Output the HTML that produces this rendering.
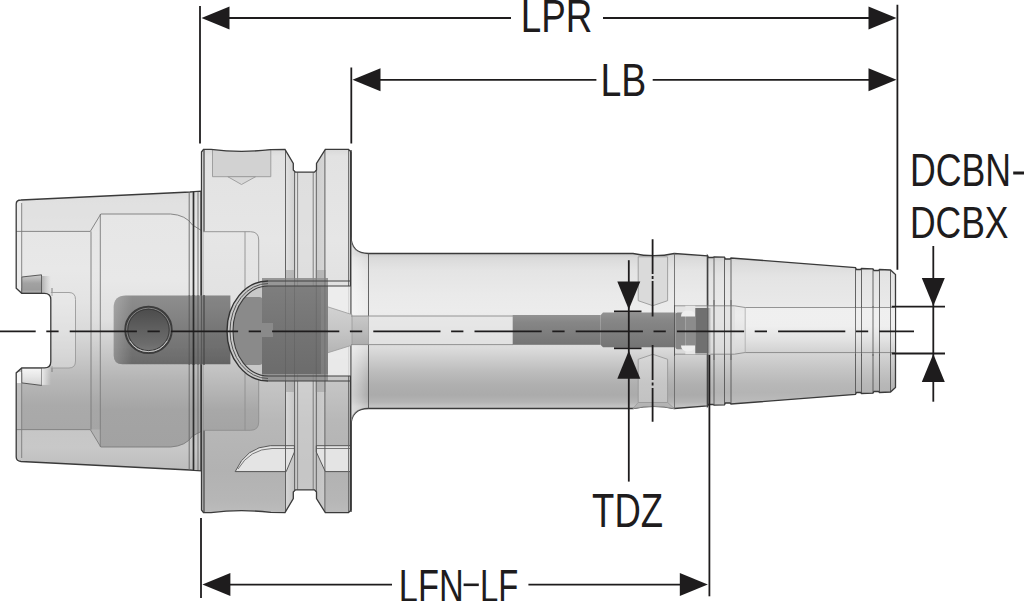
<!DOCTYPE html>
<html><head><meta charset="utf-8"><title>drawing</title>
<style>
html,body{margin:0;padding:0;background:#fff;}
body{width:1024px;height:601px;overflow:hidden;font-family:"Liberation Sans",sans-serif;}
svg{display:block;}
</style></head>
<body>
<svg width="1024" height="601" viewBox="0 0 1024 601">
<rect width="1024" height="601" fill="#fff"/>
<defs>
<linearGradient id="gShank" gradientUnits="userSpaceOnUse" x1="0" y1="191" x2="0" y2="471"><stop offset="0.0" stop-color="#d2d2d2"/><stop offset="0.0321" stop-color="#dedede"/><stop offset="0.1429" stop-color="#e4e4e4"/><stop offset="0.1464" stop-color="#e6e6e6"/><stop offset="0.2821" stop-color="#e8e8e8"/><stop offset="0.3893" stop-color="#e4e4e4"/><stop offset="0.4964" stop-color="#dadada"/><stop offset="0.5857" stop-color="#cacaca"/><stop offset="0.675" stop-color="#b8b8b8"/><stop offset="0.7643" stop-color="#aaaaaa"/><stop offset="0.85" stop-color="#a8a8a8"/><stop offset="0.8536" stop-color="#c2c2c2"/><stop offset="0.925" stop-color="#c8c8c8"/><stop offset="1.0" stop-color="#bababa"/></linearGradient>
<linearGradient id="gFlange" gradientUnits="userSpaceOnUse" x1="0" y1="149" x2="0" y2="513"><stop offset="0.0" stop-color="#d8d8d8"/><stop offset="0.0192" stop-color="#e2e2e2"/><stop offset="0.25" stop-color="#e6e6e6"/><stop offset="0.4148" stop-color="#e0e0e0"/><stop offset="0.5247" stop-color="#d6d6d6"/><stop offset="0.6346" stop-color="#c6c6c6"/><stop offset="0.7445" stop-color="#b8b8b8"/><stop offset="0.8819" stop-color="#b2b2b2"/><stop offset="0.9643" stop-color="#b6b6b6"/><stop offset="1.0" stop-color="#bcbcbc"/></linearGradient>
<linearGradient id="gShaft" gradientUnits="userSpaceOnUse" x1="0" y1="253.5" x2="0" y2="409"><stop offset="0.0" stop-color="#cccccc"/><stop offset="0.0289" stop-color="#dadada"/><stop offset="0.1061" stop-color="#e4e4e4"/><stop offset="0.2669" stop-color="#eaeaea"/><stop offset="0.3762" stop-color="#ececec"/><stop offset="0.4984" stop-color="#e6e6e6"/><stop offset="0.6077" stop-color="#dcdcdc"/><stop offset="0.6849" stop-color="#cccccc"/><stop offset="0.7621" stop-color="#bcbcbc"/><stop offset="0.8457" stop-color="#afafaf"/><stop offset="0.91" stop-color="#ababab"/><stop offset="0.955" stop-color="#b4b4b4"/><stop offset="0.9807" stop-color="#c2c2c2"/><stop offset="1.0" stop-color="#c4c4c4"/></linearGradient>
<linearGradient id="gNose" x1="0" y1="0" x2="0" y2="1"><stop offset="0" stop-color="#cccccc"/><stop offset="0.04" stop-color="#dadada"/><stop offset="0.14" stop-color="#e4e4e4"/><stop offset="0.3" stop-color="#e8e8e8"/><stop offset="0.4" stop-color="#ececec"/><stop offset="0.5" stop-color="#e6e6e6"/><stop offset="0.6" stop-color="#dcdcdc"/><stop offset="0.68" stop-color="#d0d0d0"/><stop offset="0.76" stop-color="#c4c4c4"/><stop offset="0.85" stop-color="#b8b8b8"/><stop offset="0.91" stop-color="#b4b4b4"/><stop offset="0.96" stop-color="#bababa"/><stop offset="1" stop-color="#c4c4c4"/></linearGradient>
<linearGradient id="gBoreN" x1="0" y1="0" x2="0" y2="1"><stop offset="0" stop-color="#f0f0f0"/><stop offset="0.4" stop-color="#f0f0f0"/><stop offset="0.7" stop-color="#e2e2e2"/><stop offset="1" stop-color="#cecece"/></linearGradient>
<linearGradient id="gBandB" gradientUnits="userSpaceOnUse" x1="0" y1="429" x2="0" y2="471"><stop offset="0.0" stop-color="#c6c6c6"/><stop offset="0.4286" stop-color="#c8c8c8"/><stop offset="1.0" stop-color="#bcbcbc"/></linearGradient>
<linearGradient id="gInner" gradientUnits="userSpaceOnUse" x1="0" y1="214" x2="0" y2="447"><stop offset="0.0" stop-color="#e6e6e6"/><stop offset="0.2833" stop-color="#e8e8e8"/><stop offset="0.4549" stop-color="#e0e0e0"/><stop offset="0.5837" stop-color="#cacaca"/><stop offset="0.7124" stop-color="#b4b4b4"/><stop offset="0.8412" stop-color="#a4a4a4"/><stop offset="1.0" stop-color="#a2a2a2"/></linearGradient>
<linearGradient id="gShadeT" x1="0" y1="0" x2="1" y2="0"><stop offset="0" stop-color="#777" stop-opacity="0.5"/><stop offset="1" stop-color="#999" stop-opacity="0"/></linearGradient>
<linearGradient id="gHiB" x1="0" y1="0" x2="1" y2="0"><stop offset="0" stop-color="#fff" stop-opacity="0.7"/><stop offset="1" stop-color="#fff" stop-opacity="0"/></linearGradient>
<linearGradient id="gHidF" gradientUnits="userSpaceOnUse" x1="0" y1="231" x2="0" y2="431"><stop offset="0.0" stop-color="#e6e6e6"/><stop offset="0.345" stop-color="#e2e2e2"/><stop offset="0.545" stop-color="#d6d6d6"/><stop offset="0.745" stop-color="#bcbcbc"/><stop offset="0.895" stop-color="#a8a8a8"/><stop offset="1.0" stop-color="#a4a4a4"/></linearGradient>
<linearGradient id="gXB" x1="0" y1="0" x2="0" y2="1"><stop offset="0" stop-color="#d8d8d8"/><stop offset="0.2" stop-color="#d2d2d2"/><stop offset="0.6" stop-color="#c6c6c6"/><stop offset="1" stop-color="#c2c2c2"/></linearGradient>
<linearGradient id="gCone" x1="0" y1="0" x2="0" y2="1"><stop offset="0" stop-color="#d2d2d2"/><stop offset="0.5" stop-color="#c6c6c6"/><stop offset="1" stop-color="#b4b4b4"/></linearGradient>
<linearGradient id="gCone2" x1="0" y1="0" x2="0" y2="1"><stop offset="0" stop-color="#c8c8c8"/><stop offset="0.5" stop-color="#bcbcbc"/><stop offset="1" stop-color="#acacac"/></linearGradient>
<linearGradient id="gDbL" x1="0" y1="0" x2="1" y2="0"><stop offset="0" stop-color="#fff" stop-opacity="0.22"/><stop offset="1" stop-color="#fff" stop-opacity="0"/></linearGradient>
<filter id="fSoft" x="-5%" y="-5%" width="110%" height="110%"><feGaussianBlur stdDeviation="0.6"/></filter>
<linearGradient id="gFil" x1="0" y1="0" x2="1" y2="0"><stop offset="0" stop-color="#fff" stop-opacity="0.45"/><stop offset="0.6" stop-color="#fff" stop-opacity="0.2"/><stop offset="1" stop-color="#fff" stop-opacity="0"/></linearGradient>
<linearGradient id="gDark" x1="0" y1="0" x2="0" y2="1"><stop offset="0" stop-color="#8e8e8e"/><stop offset="0.3" stop-color="#848484"/><stop offset="0.7" stop-color="#767676"/><stop offset="1" stop-color="#6a6a6a"/></linearGradient>
<linearGradient id="gDark2" x1="0" y1="0" x2="0" y2="1"><stop offset="0" stop-color="#7e7e7e"/><stop offset="0.5" stop-color="#747474"/><stop offset="1" stop-color="#6c6c6c"/></linearGradient>
<linearGradient id="gRod" x1="0" y1="0" x2="0" y2="1"><stop offset="0" stop-color="#929292"/><stop offset="0.25" stop-color="#868686"/><stop offset="0.6" stop-color="#7e7e7e"/><stop offset="1" stop-color="#747474"/></linearGradient>
<linearGradient id="gHole" x1="0" y1="0" x2="0" y2="1"><stop offset="0" stop-color="#4a4a4a"/><stop offset="0.45" stop-color="#5e5e5e"/><stop offset="0.8" stop-color="#6c6c6c"/><stop offset="1" stop-color="#7a7a7a"/></linearGradient>
<linearGradient id="gToothT" x1="0" y1="0" x2="0" y2="1"><stop offset="0" stop-color="#cdcdcd"/><stop offset="0.45" stop-color="#a2a2a2"/><stop offset="0.8" stop-color="#9c9c9c"/><stop offset="1" stop-color="#b4b4b4"/></linearGradient>
<linearGradient id="gToothB" x1="0" y1="0" x2="0" y2="1"><stop offset="0" stop-color="#f6f6f6"/><stop offset="0.5" stop-color="#e6e6e6"/><stop offset="1" stop-color="#d2d2d2"/></linearGradient>
<linearGradient id="gWall" x1="0" y1="0" x2="0" y2="1"><stop offset="0" stop-color="#cacaca"/><stop offset="0.5" stop-color="#c2c2c2"/><stop offset="1" stop-color="#bdbdbd"/></linearGradient>
<linearGradient id="gWallL" x1="0" y1="0" x2="1" y2="0"><stop offset="0" stop-color="#e2e2e2"/><stop offset="1" stop-color="#c8c8c8"/></linearGradient>
<linearGradient id="gWallR" x1="0" y1="0" x2="1" y2="0"><stop offset="0" stop-color="#c6c6c6"/><stop offset="1" stop-color="#d2d2d2"/></linearGradient>
<linearGradient id="gFade" x1="0" y1="0" x2="1" y2="0"><stop offset="0" stop-color="#7a7a7a" stop-opacity="0.9"/><stop offset="1" stop-color="#9a9a9a" stop-opacity="0"/></linearGradient>
<radialGradient id="gShadow" cx="0" cy="0.5" r="1"><stop offset="0" stop-color="#777" stop-opacity="0.55"/><stop offset="1" stop-color="#777" stop-opacity="0"/></radialGradient>
</defs>
<clipPath id="cShank"><path d="M21,200 L190,192 L194,191.6 L201,191.2 L201,470.8 L194,470.4 L190,470 L21,461.5 Q16.2,461 16.2,457 L16.2,372.9 L21.7,367.9 L44.5,367.9 Q50.8,367.9 50.8,361.5 L50.8,299.5 Q50.8,293.3 44.5,293.3 L21.7,293.3 L16.2,288.3 L16.2,204 Q16.2,200 21,200 Z"/></clipPath>
<path d="M21,200 L190,192 L194,191.6 L201,191.2 L201,470.8 L194,470.4 L190,470 L21,461.5 Q16.2,461 16.2,457 L16.2,372.9 L21.7,367.9 L44.5,367.9 Q50.8,367.9 50.8,361.5 L50.8,299.5 Q50.8,293.3 44.5,293.3 L21.7,293.3 L16.2,288.3 L16.2,204 Q16.2,200 21,200 Z" fill="url(#gShank)"/>
<g clip-path="url(#cShank)">
<path d="M10,231.4 L90.3,231.4 L100.8,214 L170.6,214 Q186,215 192.5,225 L203.3,231.7 L210,150 L10,150 Z" fill="#e2e2e2" opacity="0.55"/>
<path d="M10,429.6 L90.3,429.6 L100.8,447 L170.6,447 Q186,446 192.5,436 L203.3,430.3 L210,480 L10,480 Z" fill="url(#gBandB)"/>
<path d="M100.8,214 L170.6,214 Q186,215 192.5,225 L203.3,231.7 V430.3 L192.5,436 Q186,446 170.6,447 L100.8,447 Z" fill="url(#gInner)"/>
<path d="M90.3,231.4 L100.8,214 V447 L90.3,429.6 Z" fill="url(#gInner)" opacity="0.5"/>
<rect x="16" y="200" width="5.7" height="90" fill="#ececec"/>
<rect x="16" y="372" width="5.7" height="11" fill="#f6f6f6"/>
<rect x="16" y="383" width="5.7" height="80" fill="#c6c6c6" opacity="0.6"/>
<polygon points="21.7,277.0 41.5,274.8 41.5,293.3 21.7,293.3" fill="url(#gToothT)" stroke="#3a3a3a" stroke-width="0.8"/>
<polygon points="21.7,367.9 41.5,367.9 41.5,385.4 21.7,382.9" fill="url(#gToothB)" stroke="#3a3a3a" stroke-width="0.8"/>
<rect x="41.5" y="276" width="9.5" height="17.3" fill="url(#gShadeT)"/>
<rect x="41.5" y="367.9" width="9.5" height="17" fill="url(#gHiB)"/>
<path d="M16,231.4 L90.3,231.4 L100.8,214 L170.6,214 Q186,215 192.5,225 L203.3,231.7" fill="none" stroke="#7c7c7c" stroke-width="0.9"/>
<path d="M16,429.6 L90.3,429.6 L100.8,447 L170.6,447 Q186,446 192.5,436 L203.3,430.3" fill="none" stroke="#7c7c7c" stroke-width="0.9"/>
<path d="M91,231.4 V429.6 M100.3,214 V447 M21.7,203 V288 M21.7,373 V458" fill="none" stroke="#7c7c7c" stroke-width="0.9"/>
<path d="M52,288 V296 M52,366 V372" stroke="#777" stroke-width="0.9"/>
<path d="M50.8,292.5 H69 Q75.5,292.5 75.5,299.5 V361 Q75.5,368 69,368 H50.8" fill="#ededed" fill-opacity="0.35" stroke="#9a9a9a" stroke-width="0.9"/>
</g>
<path d="M21,200 L190,192 L194,191.6 L201,191.2 L201,470.8 L194,470.4 L190,470 L21,461.5 Q16.2,461 16.2,457 L16.2,372.9 L21.7,367.9 L44.5,367.9 Q50.8,367.9 50.8,361.5 L50.8,299.5 Q50.8,293.3 44.5,293.3 L21.7,293.3 L16.2,288.3 L16.2,204 Q16.2,200 21,200 Z" fill="none" stroke="#3a3a3a" stroke-width="1.3"/>
<clipPath id="cFlange"><path d=" M201.5,152.0 L203.5,149.3 L211.0,149.4 C230.0,151.8 252.0,151.8 270.8,149.6 L285.0,149.4 L293.3,163.5 L293.3,170.0 L295.5,172.2 L314.5,172.2 L316.5,170.0 L316.5,163.5 L325.3,149.4 L348.5,149.4 L351.0,152.0 L351.0,510.0 L348.5,512.6 L325.3,512.6 L316.5,498.5 L316.5,492.0 L314.5,489.8 L295.5,489.8 L293.3,492.0 L293.3,498.5 L285.0,512.6 L270.8,512.4 C252.0,510.2 230.0,510.2 211.0,512.6 L203.5,512.7 L201.5,510.0 Z"/></clipPath>
<path d=" M201.5,152.0 L203.5,149.3 L211.0,149.4 C230.0,151.8 252.0,151.8 270.8,149.6 L285.0,149.4 L293.3,163.5 L293.3,170.0 L295.5,172.2 L314.5,172.2 L316.5,170.0 L316.5,163.5 L325.3,149.4 L348.5,149.4 L351.0,152.0 L351.0,510.0 L348.5,512.6 L325.3,512.6 L316.5,498.5 L316.5,492.0 L314.5,489.8 L295.5,489.8 L293.3,492.0 L293.3,498.5 L285.0,512.6 L270.8,512.4 C252.0,510.2 230.0,510.2 211.0,512.6 L203.5,512.7 L201.5,510.0 Z" fill="url(#gFlange)"/>
<g clip-path="url(#cFlange)">
<rect x="285.4" y="140" width="9.3" height="390" fill="url(#gWallL)" opacity="0.75"/>
<rect x="316" y="140" width="9.3" height="390" fill="url(#gWallR)" opacity="0.75"/>
<rect x="294.7" y="170" width="21.3" height="330" fill="#dadada" opacity="0.5"/>
<path d="M212.5,149 L212.5,176.7 H270.8 V149 Z" fill="#d2d2d2" stroke="#999" stroke-width="0.9"/>
<polygon points="227.8,176.7 241.5,184.5 255.6,176.7" fill="#d8d8d8" stroke="#9a9a9a" stroke-width="0.9"/>
<path d="M235.2,471.6 Q246,447 270.4,445.7 H294.4 V452 L286.2,471.6 Z" fill="#e4e4e4" stroke="#4a4a4a" stroke-width="0.9"/>
<path d="M238,469 Q250,449 272,448.5 H294.4" fill="none" stroke="#5a5a5a" stroke-width="0.8"/>
<path d="M316.3,445.7 H351 V471.6 H325.3 L316.3,452 Z" fill="#e4e4e4" stroke="#4a4a4a" stroke-width="0.9"/>
<path d="M316.3,448.5 H351" stroke="#5a5a5a" stroke-width="0.8"/>
<line x1="204" y1="140" x2="204" y2="522" stroke="#555" stroke-width="1.4"/>
<line x1="285.5" y1="140" x2="285.5" y2="522" stroke="#555" stroke-width="0.9"/>
<line x1="294.6" y1="140" x2="294.6" y2="522" stroke="#555" stroke-width="0.9"/>
<line x1="297.6" y1="140" x2="297.6" y2="522" stroke="#666" stroke-width="0.8"/>
<line x1="313.2" y1="140" x2="313.2" y2="522" stroke="#666" stroke-width="0.8"/>
<line x1="316.3" y1="140" x2="316.3" y2="522" stroke="#555" stroke-width="0.9"/>
<line x1="324.9" y1="140" x2="324.9" y2="522" stroke="#555" stroke-width="0.9"/>
<line x1="348.5" y1="140" x2="348.5" y2="522" stroke="#666" stroke-width="0.9"/>
<path d="M203.3,231.7 H250.5 Q258.7,231.7 258.7,240 V422 Q258.7,430.3 250.5,430.3 H203.3 Z" fill="url(#gHidF)"/>
<path d="M203.3,231.7 H250.5 Q258.7,231.7 258.7,240 V422 Q258.7,430.3 250.5,430.3 H203.3 M245,231.7 V430.3" fill="none" stroke="#8e8e8e" stroke-width="0.9"/>
</g>
<path d=" M201.5,152.0 L203.5,149.3 L211.0,149.4 C230.0,151.8 252.0,151.8 270.8,149.6 L285.0,149.4 L293.3,163.5 L293.3,170.0 L295.5,172.2 L314.5,172.2 L316.5,170.0 L316.5,163.5 L325.3,149.4 L348.5,149.4 L351.0,152.0 L351.0,510.0 L348.5,512.6 L325.3,512.6 L316.5,498.5 L316.5,492.0 L314.5,489.8 L295.5,489.8 L293.3,492.0 L293.3,498.5 L285.0,512.6 L270.8,512.4 C252.0,510.2 230.0,510.2 211.0,512.6 L203.5,512.7 L201.5,510.0 Z" fill="none" stroke="#3a3a3a" stroke-width="1.3"/>
<line x1="189.2" y1="192" x2="189.2" y2="470" stroke="#666" stroke-width="0.9"/>
<line x1="193.5" y1="192" x2="193.5" y2="470" stroke="#2e2e2e" stroke-width="1.7"/>
<line x1="198" y1="192" x2="198" y2="470" stroke="#666" stroke-width="0.9"/>
<clipPath id="cShaft"><path d="M351,150 V236 Q351,253.5 368.5,253.5 L633,253.5 Q654,258 674.3,253.5 L707.5,255.8 L707.5,405.8 L674.3,408.5 Q654,404 633,408.5 L368.5,408.5 Q351,408.5 351,426 V512 Z"/></clipPath>
<path d="M351,150 V236 Q351,253.5 368.5,253.5 L633,253.5 Q654,258 674.3,253.5 L707.5,255.8 L707.5,405.8 L674.3,408.5 Q654,404 633,408.5 L368.5,408.5 Q351,408.5 351,426 V512 Z" fill="url(#gShaft)" stroke="#3a3a3a" stroke-width="1.3"/>
<rect x="351" y="230" width="17.5" height="200" fill="url(#gFil)" clip-path="url(#cShaft)"/>
<line x1="368.5" y1="253.5" x2="368.5" y2="408.5" stroke="#555" stroke-width="0.9"/>
<line x1="350.5" y1="152" x2="350.5" y2="510" stroke="#3a3a3a" stroke-width="1.3"/>
<clipPath id="cNose"><polygon points="707.5,255.8 708.5,257.5 713.0,257.5 714.0,256.8 724.5,257.2 725.5,259.0 730.0,259.0 731.0,258.0 855.5,267.5 856.5,269.5 860.5,269.5 861.5,268.5 873.0,268.8 874.0,270.5 878.5,270.5 879.5,269.5 890.5,270.0 895.5,274.5 895.5,387.5 890.5,392.0 879.5,392.5 878.5,391.5 874.0,391.5 873.0,393.2 861.5,393.5 860.5,392.5 856.5,392.5 855.5,394.5 731.0,404.0 730.0,403.0 725.5,403.0 724.5,404.8 714.0,405.2 713.0,404.5 708.5,404.5 707.5,406.2"/></clipPath>
<polygon points="707.5,255.8 708.5,257.5 713.0,257.5 714.0,256.8 724.5,257.2 725.5,259.0 730.0,259.0 731.0,258.0 855.5,267.5 856.5,269.5 860.5,269.5 861.5,268.5 873.0,268.8 874.0,270.5 878.5,270.5 879.5,269.5 890.5,270.0 895.5,274.5 895.5,387.5 890.5,392.0 879.5,392.5 878.5,391.5 874.0,391.5 873.0,393.2 861.5,393.5 860.5,392.5 856.5,392.5 855.5,394.5 731.0,404.0 730.0,403.0 725.5,403.0 724.5,404.8 714.0,405.2 713.0,404.5 708.5,404.5 707.5,406.2" fill="url(#gNose)"/>
<g clip-path="url(#cNose)">
<line x1="714" y1="250" x2="714" y2="412" stroke="#555" stroke-width="0.9"/>
<line x1="724.5" y1="250" x2="724.5" y2="412" stroke="#555" stroke-width="0.9"/>
<line x1="731" y1="250" x2="731" y2="412" stroke="#555" stroke-width="0.9"/>
<line x1="855.5" y1="250" x2="855.5" y2="412" stroke="#555" stroke-width="0.9"/>
<line x1="861.5" y1="250" x2="861.5" y2="412" stroke="#555" stroke-width="0.9"/>
<line x1="873" y1="250" x2="873" y2="412" stroke="#555" stroke-width="0.9"/>
<line x1="879.5" y1="250" x2="879.5" y2="412" stroke="#555" stroke-width="0.9"/>
<line x1="890.5" y1="250" x2="890.5" y2="412" stroke="#555" stroke-width="0.9"/>
</g>
<polygon points="707.5,255.8 708.5,257.5 713.0,257.5 714.0,256.8 724.5,257.2 725.5,259.0 730.0,259.0 731.0,258.0 855.5,267.5 856.5,269.5 860.5,269.5 861.5,268.5 873.0,268.8 874.0,270.5 878.5,270.5 879.5,269.5 890.5,270.0 895.5,274.5 895.5,387.5 890.5,392.0 879.5,392.5 878.5,391.5 874.0,391.5 873.0,393.2 861.5,393.5 860.5,392.5 856.5,392.5 855.5,394.5 731.0,404.0 730.0,403.0 725.5,403.0 724.5,404.8 714.0,405.2 713.0,404.5 708.5,404.5 707.5,406.2" fill="none" stroke="#3a3a3a" stroke-width="1.3"/>
<line x1="707.7" y1="255.8" x2="707.7" y2="405.8" stroke="#444" stroke-width="1.1"/>
<rect x="327" y="286" width="23.5" height="90" fill="#f0f0f0" opacity="0.8"/>
<polygon points="327,306.6 352,314.6 352,345.2 327,353" fill="url(#gCone)"/>
<rect x="352" y="316" width="16.5" height="28.6" fill="url(#gCone2)"/>
<path d="M327,306.6 L352,314.6 V345.2 L327,353" fill="none" stroke="#9a9a9a" stroke-width="0.8"/>
<rect x="368.5" y="316" width="144.5" height="28.6" fill="#e4e4e4" opacity="0.55"/>
<path d="M351,316 H513 M351,344.6 H513" stroke="#8a8a8a" stroke-width="0.9"/>
<rect x="745" y="307.5" width="150" height="46.5" fill="url(#gBoreN)" opacity="0.85"/>
<rect x="675" y="305.8" width="60" height="48.4" fill="#dcdcdc" opacity="0.55"/>
<path d="M675,305.8 H734.4 L745.2,307.5 H895.5 M675,354.2 H734.4 L745.2,352.5 H895.5" fill="none" stroke="#8a8a8a" stroke-width="0.9"/>
<line x1="745.2" y1="307.5" x2="745.2" y2="352.5" stroke="#aaa" stroke-width="0.8"/>
<line x1="855.5" y1="306" x2="855.5" y2="356" stroke="#555" stroke-width="0.9" opacity="0.85"/>
<line x1="861.5" y1="306" x2="861.5" y2="356" stroke="#555" stroke-width="0.9" opacity="0.85"/>
<line x1="873" y1="306" x2="873" y2="356" stroke="#555" stroke-width="0.9" opacity="0.85"/>
<line x1="879.5" y1="306" x2="879.5" y2="356" stroke="#555" stroke-width="0.9" opacity="0.85"/>
<line x1="890.5" y1="306" x2="890.5" y2="356" stroke="#555" stroke-width="0.9" opacity="0.85"/>
<path d="M638.2,256.8 H667.6 V300.7 L652.8,305.7 L638.2,300.7 Z" fill="#dadada" stroke="#9a9a9a" stroke-width="0.9"/>
<path d="M638.2,402.5 H667.6 V359.3 L652.8,354.3 L638.2,359.3 Z" fill="url(#gXB)" stroke="#999" stroke-width="0.9"/>
<path d="M638.2,402.5 H667.6 L674.3,408.5 Q654,404 633,408.5 Z" fill="#b4b4b4" stroke="#999" stroke-width="0.8"/>
<line x1="674.5" y1="253.5" x2="674.5" y2="408.5" stroke="#6a6a6a" stroke-width="0.9"/>
<path d="M126,295.5 H230.4 V364.3 H122.5 Q113.7,364.3 113.7,355.5 V307.5 Q113.7,295.5 126,295.5 Z" fill="url(#gDark)" filter="url(#fSoft)"/>
<path d="M126,295.5 H132 V364.3 H122.5 Q113.7,364.3 113.7,355.5 V307.5 Q113.7,295.5 126,295.5 Z" fill="url(#gDbL)"/>
<rect x="200" y="295.5" width="30.4" height="68.8" fill="#000" opacity="0.05"/>
<clipPath id="cD"><path d="M268,286 A35,45 0 0 0 268,376 Z"/></clipPath>
<path d="M268,281 A41,50 0 0 0 268,381 Z" fill="#c8c8c8"/>
<rect x="226" y="297" width="37" height="68" rx="4" fill="#8a8a8a" clip-path="url(#cD)"/>
<circle cx="148.5" cy="329.9" r="23.2" fill="url(#gHole)" stroke="#3c3c3c" stroke-width="2"/>
<circle cx="148.5" cy="329.9" r="21.7" fill="none" stroke="#8a8a8a" stroke-width="0.9"/>
<circle cx="148.5" cy="329.9" r="20.7" fill="none" stroke="#3a3a3a" stroke-width="1"/>
<path d="M129.7,340.75 A21.7,21.7 0 0 0 167.3,340.75" fill="none" stroke="#c4c4c4" stroke-width="1"/>
<rect x="262" y="278" width="66" height="103" fill="#8a8a8a" opacity="0.85"/>
<rect x="262" y="286" width="66" height="88" fill="url(#gDark2)"/>
<rect x="321" y="286" width="7" height="88" fill="#8a8a8a" opacity="0.6"/>
<rect x="258" y="323" width="15" height="14" fill="#8a8a8a"/>
<rect x="285.4" y="270" width="9.3" height="15" fill="#9a9a9a" opacity="0.5"/>
<rect x="316" y="270" width="9.3" height="15" fill="#9a9a9a" opacity="0.5"/>
<rect x="285.4" y="377" width="9.3" height="15" fill="#9a9a9a" opacity="0.5"/>
<rect x="316" y="377" width="9.3" height="15" fill="#9a9a9a" opacity="0.5"/>
<path d="M268,281 A41,50 0 0 0 268,381" fill="none" stroke="#333" stroke-width="1.4"/>
<path d="M268,283.5 A38,47.5 0 0 0 268,378.5" fill="none" stroke="#555" stroke-width="1"/>
<path d="M268,286 A35,45 0 0 0 268,376" fill="none" stroke="#3a3a3a" stroke-width="1.1"/>
<path d="M268,281 H351 M268,286 H351 M268,376 H351 M268,381 H351" stroke="#404040" stroke-width="1"/>
<line x1="189.2" y1="295" x2="189.2" y2="365" stroke="#555" stroke-width="0.9"/>
<line x1="193.5" y1="295" x2="193.5" y2="365" stroke="#2a2a2a" stroke-width="1.7"/>
<line x1="198" y1="295" x2="198" y2="365" stroke="#555" stroke-width="0.9"/>
<line x1="201.5" y1="295" x2="201.5" y2="365" stroke="#555" stroke-width="0.9"/>
<line x1="204" y1="295" x2="204" y2="365" stroke="#4a4a4a" stroke-width="1.3"/>
<line x1="285.5" y1="270" x2="285.5" y2="392" stroke="#4a4a4a" stroke-width="0.8" opacity="0.35"/>
<line x1="294.6" y1="270" x2="294.6" y2="392" stroke="#4a4a4a" stroke-width="0.8" opacity="0.35"/>
<line x1="316.3" y1="270" x2="316.3" y2="392" stroke="#4a4a4a" stroke-width="0.8" opacity="0.35"/>
<line x1="324.9" y1="270" x2="324.9" y2="392" stroke="#4a4a4a" stroke-width="0.8" opacity="0.35"/>
<rect x="512.7" y="315" width="88" height="29.8" fill="url(#gRod)"/>
<path d="M603,312.4 H675.5 V347.3 H603 L600.8,345 V315 Z" fill="url(#gRod)"/>
<rect x="675.5" y="312.6" width="10" height="36.6" rx="2" fill="#878787"/>
<rect x="685.3" y="305.8" width="10" height="48.4" fill="#e6e6e6"/>
<rect x="685.3" y="316" width="10" height="29.9" fill="#8c8c8c"/>
<path d="M681,316.4 Q681,310.6 688,310.6 Q695.3,310.6 695.3,316.4 Z M681,345.6 Q681,351.4 688,351.4 Q695.3,351.4 695.3,345.6 Z" fill="#eeeeee"/>
<rect x="695.3" y="308" width="12.4" height="45.2" fill="#707070"/>
<rect x="707.5" y="308" width="4" height="45.2" fill="url(#gFade)"/>
<line x1="674.5" y1="305" x2="674.5" y2="356" stroke="#555" stroke-width="0.9"/>
<line x1="707.7" y1="300" x2="707.7" y2="360" stroke="#555" stroke-width="0.9" opacity="0.8"/>
<line x1="714" y1="300" x2="714" y2="360" stroke="#555" stroke-width="0.9" opacity="0.8"/>
<line x1="724.5" y1="300" x2="724.5" y2="360" stroke="#555" stroke-width="0.9" opacity="0.8"/>
<line x1="731" y1="300" x2="731" y2="360" stroke="#555" stroke-width="0.9" opacity="0.8"/>
<line x1="0" y1="331.4" x2="914" y2="331.4" stroke="#1e1c1d" stroke-width="1.6" stroke-dasharray="67.2 10.6 12.3 11.1" stroke-dashoffset="31.5"/>
<line x1="200" y1="6" x2="200" y2="143.5" stroke="#1e1c1d" stroke-width="1.8"/>
<line x1="351.3" y1="67.5" x2="351.3" y2="143.5" stroke="#1e1c1d" stroke-width="1.8"/>
<line x1="897.4" y1="4.7" x2="897.4" y2="269.8" stroke="#1e1c1d" stroke-width="1.8"/>
<line x1="201" y1="518" x2="201" y2="598" stroke="#1e1c1d" stroke-width="1.8"/>
<line x1="709.4" y1="355" x2="709.4" y2="596.3" stroke="#1e1c1d" stroke-width="1.8"/>
<line x1="215" y1="18" x2="511" y2="18" stroke="#1e1c1d" stroke-width="1.8"/>
<line x1="603" y1="18" x2="880" y2="18" stroke="#1e1c1d" stroke-width="1.8"/>
<polygon points="201.5,18 229.5,6.5 229.5,29.5" fill="#1e1c1d"/>
<polygon points="896.5,18 868.5,6.5 868.5,29.5" fill="#1e1c1d"/>
<line x1="365" y1="79.8" x2="596.4" y2="79.8" stroke="#1e1c1d" stroke-width="1.8"/>
<line x1="652.7" y1="79.8" x2="880" y2="79.8" stroke="#1e1c1d" stroke-width="1.8"/>
<polygon points="352.5,79.8 380.5,68.3 380.5,91.3" fill="#1e1c1d"/>
<polygon points="896.5,79.8 868.5,68.3 868.5,91.3" fill="#1e1c1d"/>
<line x1="215" y1="584.6" x2="392" y2="584.6" stroke="#1e1c1d" stroke-width="1.8"/>
<line x1="528.4" y1="584.6" x2="695" y2="584.6" stroke="#1e1c1d" stroke-width="1.8"/>
<polygon points="202.4,584.6 230.4,573.1 230.4,596.1" fill="#1e1c1d"/>
<polygon points="707.8,584.6 679.8,573.1 679.8,596.1" fill="#1e1c1d"/>
<line x1="628.8" y1="260.2" x2="628.8" y2="481.6" stroke="#1e1c1d" stroke-width="1.8"/>
<polygon points="628.8,309.5 617.3,281.5 640.3,281.5" fill="#1e1c1d"/>
<polygon points="628.8,350.8 617.3,378.8 640.3,378.8" fill="#1e1c1d"/>
<line x1="614" y1="311.4" x2="641.5" y2="311.4" stroke="#1e1c1d" stroke-width="1.8"/>
<line x1="614" y1="348.3" x2="641.5" y2="348.3" stroke="#1e1c1d" stroke-width="1.8"/>
<path d="M652.6,239.2 V273.9 M652.6,276 V278.9 M652.6,281 V316.4" stroke="#1e1c1d" stroke-width="1.8"/>
<path d="M652.6,345 V380 M652.6,382.5 V385.5 M652.6,388 V421.7" stroke="#1e1c1d" stroke-width="1.8"/>
<line x1="933.3" y1="246" x2="933.3" y2="401.7" stroke="#1e1c1d" stroke-width="1.8"/>
<polygon points="933.3,306 921.8,278 944.8,278" fill="#1e1c1d"/>
<polygon points="933.3,354 921.8,382 944.8,382" fill="#1e1c1d"/>
<line x1="891.7" y1="306.7" x2="945" y2="306.7" stroke="#1e1c1d" stroke-width="1.8"/>
<line x1="891.7" y1="353.5" x2="945" y2="353.5" stroke="#1e1c1d" stroke-width="1.8"/>
<text transform="translate(523.70,32.40) scale(0.7838,1)" x="-3.76" y="0" font-family="Liberation Sans" font-size="46.96" fill="#1e1c1d">LPR</text>
<text transform="translate(603.40,95.70) scale(0.8021,1)" x="-3.73" y="0" font-family="Liberation Sans" font-size="46.67" fill="#1e1c1d">LB</text>
<text transform="translate(593.00,527.00) scale(0.7725,1)" x="-1.18" y="0" font-family="Liberation Sans" font-size="47.25" fill="#1e1c1d">TDZ</text>
<text transform="translate(401.60,601.70) scale(0.7358,1)" x="-3.73" y="0" font-family="Liberation Sans" font-size="46.67" fill="#1e1c1d">LFN</text>
<text transform="translate(482.60,601.70) scale(0.7033,1)" x="-3.73" y="0" font-family="Liberation Sans" font-size="46.67" fill="#1e1c1d">LF</text>
<rect x="463.6" y="583.5" width="15.2" height="2.6" fill="#1e1c1d"/>
<text transform="translate(912.80,186.00) scale(0.7818,1)" x="-3.65" y="0" font-family="Liberation Sans" font-size="45.65" fill="#1e1c1d">DCBN</text>
<rect x="1013.2" y="171.5" width="20" height="3" fill="#1e1c1d"/>
<text transform="translate(912.80,238.00) scale(0.7846,1)" x="-3.62" y="0" font-family="Liberation Sans" font-size="45.22" fill="#1e1c1d">DCBX</text>
</svg>
</body></html>
